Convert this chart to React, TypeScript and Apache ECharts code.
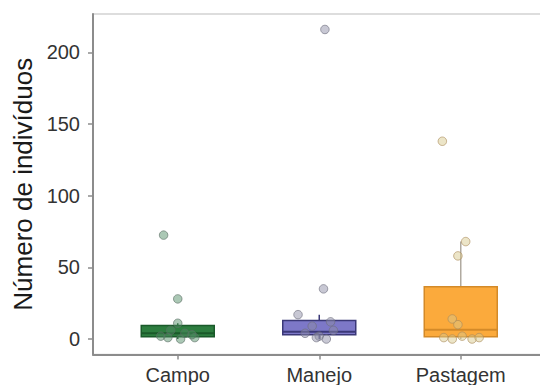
import React, { useEffect, useRef } from "react";
import * as echarts from "echarts";

const categories = ["Campo", "Manejo", "Pastagem"];
const yTicks = [0, 50, 100, 150, 200];
// [min, Q1, median, Q3, max]
const boxValues = [
  [0, 1.5, 4, 9.5, 11],
  [0, 3, 5, 13, 17],
  [0, 1.5, 6.5, 36.5, 68],
];
const boxFill = ["#2d7d3f", "#7d78c8", "#fbaa3c"];
const boxBorder = ["#1a5a2a", "#3b3878", "#d48a28"];
const whiskerColor = ["#1a5a2a", "#3b3878", "#b0aaa0"];
const pointFill = ["rgba(80,140,100,0.6)", "rgba(140,140,165,0.6)", "rgba(215,200,140,0.6)"];
const pointBorder = ["rgba(90,110,100,0.8)", "rgba(110,110,125,0.8)", "rgba(170,140,90,0.8)"];
// jittered points: [x offset in category units (from picture), value]
const campoPoints = [
  [-0.1, 72.5], [0, 28], [0, 11], [-0.05, 6], [0.05, 4], [-0.07, 1], [0.02, 0], [0.12, 1], [0.1, 3], [-0.12, 2],
];
const manejoPoints = [
  [0.04, 216], [0.03, 35], [-0.15, 17], [0.08, 12], [-0.05, 9], [0.1, 6], [-0.1, 4], [0, 2], [0.05, 0], [-0.02, 1],
];
const pastagemPoints = [
  [-0.13, 138], [0.035, 68], [-0.02, 58], [-0.06, 14], [-0.02, 10], [-0.12, 1], [-0.06, 0], [0.01, 2], [0.08, 0], [0.13, 1],
];
const groupPoints = [campoPoints, manejoPoints, pastagemPoints];

const FONT = "'Liberation Sans', Arial, sans-serif";
const Y_MIN = -10.8;
const Y_MAX = 226.8;
const BOX_W = 73;

export default function App() {
  const ref = useRef<HTMLDivElement>(null);
  useEffect(() => {
    if (!ref.current) return;
    const chart = echarts.init(ref.current, null, { renderer: "svg" });
    const scatterSeries = groupPoints.map((pts, gi) => ({
      type: "scatter",
      xAxisIndex: 2,
      yAxisIndex: 1,
      symbolSize: 8.5,
      z: 5,
      itemStyle: { color: pointFill[gi], borderColor: pointBorder[gi], borderWidth: 1 },
      data: pts.map((p) => [gi + p[0], p[1]]),
    }));
    const renderBox = (params: any, api: any) => {
      const i = params.dataIndex;
      const cat = api.value(0);
      const pMin = api.coord([cat, api.value(1)]);
      const pQ1 = api.coord([cat, api.value(2)]);
      const pMed = api.coord([cat, api.value(3)]);
      const pQ3 = api.coord([cat, api.value(4)]);
      const pMax = api.coord([cat, api.value(5)]);
      const cx = pQ1[0];
      const half = BOX_W / 2;
      return {
        type: "group",
        children: [
          {
            type: "line",
            shape: { x1: cx, y1: pQ3[1], x2: cx, y2: pMax[1] },
            style: { stroke: whiskerColor[i], lineWidth: 1.5 },
          },
          {
            type: "line",
            shape: { x1: cx, y1: pQ1[1], x2: cx, y2: pMin[1] },
            style: { stroke: whiskerColor[i], lineWidth: 1.5 },
          },
          {
            type: "rect",
            shape: { x: cx - half, y: pQ3[1], width: BOX_W, height: pQ1[1] - pQ3[1] },
            style: { fill: boxFill[i], stroke: boxBorder[i], lineWidth: 1.5 },
          },
          {
            type: "line",
            shape: { x1: cx - half, y1: pMed[1], x2: cx + half, y2: pMed[1] },
            style: { stroke: boxBorder[i], lineWidth: 2 },
          },
        ],
      };
    };
    chart.setOption({
      animation: false,
      grid: [
        {
          left: 93, right: -6, top: 14, bottom: 30.5,
          show: true, borderColor: "#d2d2d2", borderWidth: 1.5,
          containLabel: false, outerBoundsMode: "none",
        },
        {
          left: 107, right: 8.5, top: 14, bottom: 30.5,
          containLabel: false, outerBoundsMode: "none",
        },
      ],
      xAxis: [
        {
          gridIndex: 0, type: "value", min: 0, max: 1,
          axisLine: { show: true, onZero: false, lineStyle: { color: "#8c8c8c", width: 2 } },
          axisTick: { show: false }, axisLabel: { show: false }, splitLine: { show: false },
        },
        {
          gridIndex: 1, type: "category", data: categories,
          axisLine: { show: false, onZero: false },
          axisTick: { show: true, alignWithLabel: true, length: 5, lineStyle: { color: "#8c8c8c", width: 1.5 } },
          axisLabel: { show: true, fontSize: 20, fontFamily: FONT, color: "#333333", margin: 10 },
          splitLine: { show: false },
        },
        {
          gridIndex: 1, type: "value", min: -0.5, max: 2.5, show: false,
        },
      ],
      yAxis: [
        {
          gridIndex: 0, type: "value", min: Y_MIN, max: Y_MAX,
          name: "Número de indivíduos", nameLocation: "middle", nameGap: 57,
          nameTextStyle: { fontSize: 26, fontFamily: FONT, color: "#1a1a1a" },
          axisLine: { show: true, onZero: false, lineStyle: { color: "#8c8c8c", width: 2 } },
          axisTick: { show: true, length: 5, customValues: yTicks, lineStyle: { color: "#8c8c8c", width: 1.5 } },
          axisLabel: { show: true, customValues: yTicks, fontSize: 20, fontFamily: FONT, color: "#333333", margin: 13 },
          splitLine: { show: false },
        },
        {
          gridIndex: 1, type: "value", min: Y_MIN, max: Y_MAX, show: false, splitLine: { show: false },
        },
      ],
      series: [
        {
          type: "custom",
          xAxisIndex: 1,
          yAxisIndex: 1,
          z: 3,
          renderItem: renderBox,
          encode: { x: 0, y: [1, 2, 3, 4, 5] },
          data: boxValues.map((v, i) => [i, ...v]),
        },
        ...scatterSeries,
      ],
    });
    return () => chart.dispose();
  }, []);
  return (
    <div
      ref={ref}
      style={{ position: "fixed", left: 0, top: 0, width: 540, height: 385, background: "#ffffff" }}
    />
  );
}
